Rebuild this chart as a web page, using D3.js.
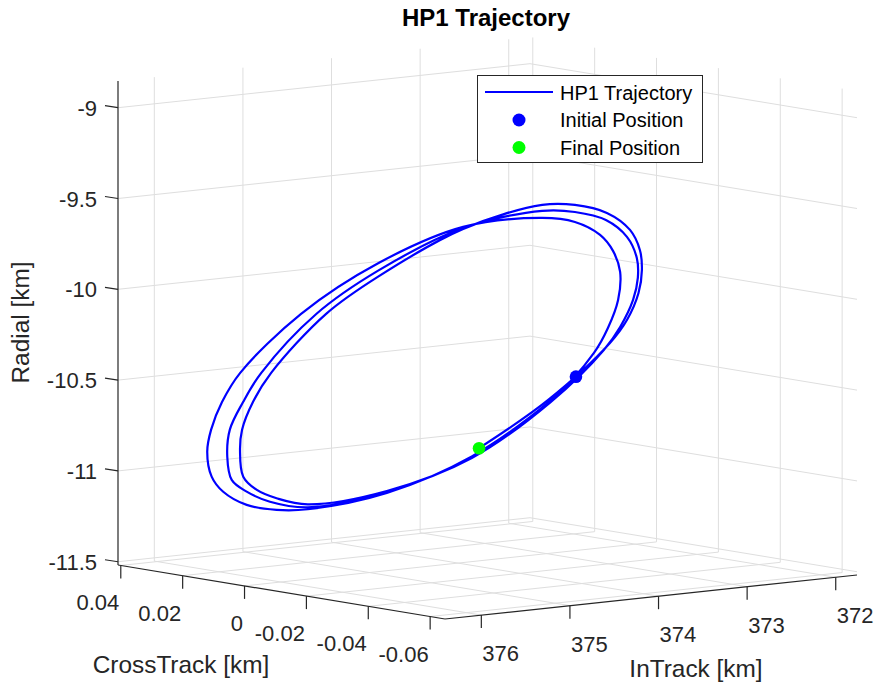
<!DOCTYPE html>
<html><head><meta charset="utf-8">
<script src="https://cdn.jsdelivr.net/npm/d3@7"></script>
<style>body{margin:0;background:#fff}svg{display:block}text{font-family:"Liberation Sans",Arial,Helvetica,sans-serif}</style>
</head><body>
<svg id="chart" width="877" height="686"></svg>
<script>
// Trajectory samples (km)
const crossTrack = [-0.0058,-0.0033,0.0040,0.0120,0.0194,0.0224,0.0252,0.0274,0.0285,0.0289,0.0285,0.0275,0.0258,0.0201,0.0128,0.0048,-0.0026,
  -0.0057,-0.0081,-0.0093,-0.0100,-0.0098,-0.0088,-0.0075,
  -0.0033,0.0040,0.0120,0.0194,0.0230,0.0252,0.0266,0.0270,0.0268,0.0255,0.0238,0.0186,0.0128,0.0048,-0.0026,
  -0.0057,-0.0086,-0.0106,-0.0115,-0.0116,-0.0112,-0.0100,-0.0084,
  -0.0034,0.0040,0.0120,0.0194,0.0224,0.0242,0.0255,0.0258,0.0256,0.0246,0.0229,0.0177,0.0128,0.0048,-0.0026,
  -0.0057,-0.0087,-0.0109,-0.0118,-0.0120,-0.0117,-0.0106,-0.0090,
  -0.0032,0.0033];
const inTrack = [372.872,373.090,373.705,374.385,375.019,375.266,375.506,375.694,375.786,375.822,375.792,375.704,375.558,375.070,374.455,373.775,373.141,
  372.880,372.680,372.576,372.520,372.536,372.616,372.728,
  373.082,373.705,374.385,375.019,375.320,375.506,375.626,375.662,375.640,375.536,375.390,374.951,374.455,373.775,373.141,
  372.880,372.632,372.464,372.384,372.376,372.416,372.520,372.648,
  373.074,373.705,374.385,375.019,375.266,375.426,375.534,375.560,375.544,375.456,375.310,374.871,374.455,373.775,373.141,
  372.880,372.624,372.440,372.360,372.344,372.372,372.464,372.600,
  373.098,373.648];
const radial = [-10.534,-10.670,-10.957,-11.146,-11.223,-11.222,-11.190,-11.114,-11.029,-10.891,-10.770,-10.620,-10.462,-10.146,-9.879,-9.692,-9.655,
  -9.682,-9.757,-9.847,-9.964,-10.118,-10.271,-10.406,
  -10.670,-10.962,-11.141,-11.212,-11.176,-11.117,-11.050,-10.921,-10.773,-10.623,-10.465,-10.149,-9.920,-9.698,-9.616,
  -9.627,-9.676,-9.772,-9.890,-10.000,-10.120,-10.267,-10.391,
  -10.670,-10.966,-11.135,-11.196,-11.158,-11.109,-11.034,-10.887,-10.775,-10.624,-10.467,-10.150,-9.953,-9.703,-9.583,
  -9.588,-9.637,-9.734,-9.846,-9.956,-10.083,-10.230,-10.354,
  -10.659,-10.913];

const crossTicks = [0.04,0.02,0,-0.02,-0.04,-0.06];
const inTicks = [376,375,374,373,372];
const radTicks = [-9,-9.5,-10,-10.5,-11,-11.5];
const cLim = [-0.0648, 0.0409], iLim = [371.76, 376.41], rLim = [-11.518, -8.853];

const svg = d3.select("#chart");
const sc = d3.scaleLinear().domain([cLim[1], cLim[0]]).range([0,1]);
const si = d3.scaleLinear().domain([iLim[1], iLim[0]]).range([0,1]);
const sr = d3.scaleLinear().domain([rLim[0], rLim[1]]).range([0,1]);
const O = [118,565], EC = [327,54], EI = [412,-44], ER = [0,-484];
function proj(c,i,r){const a=sc(c),b=si(i),d=sr(r);
  return [O[0]+a*EC[0]+b*EI[0]+d*ER[0], O[1]+a*EC[1]+b*EI[1]+d*ER[1]];}
const AX="#262626", GRID="#dedede";
function seg(g,p,q,col,w){g.append("line").attr("x1",p[0]).attr("y1",p[1]).attr("x2",q[0]).attr("y2",q[1])
  .attr("stroke",col).attr("stroke-width",w);}

// grid
const gg = svg.append("g");
const [cmin,cmax]=cLim,[imin,imax]=iLim,[rmin,rmax]=rLim;
radTicks.forEach(r=>{ seg(gg,proj(cmax,imax,r),proj(cmax,imin,r),GRID,1); seg(gg,proj(cmax,imin,r),proj(cmin,imin,r),GRID,1); });
inTicks.forEach(i=>{ seg(gg,proj(cmax,i,rmin),proj(cmax,i,rmax),GRID,1); seg(gg,proj(cmax,i,rmin),proj(cmin,i,rmin),GRID,1); });
crossTicks.forEach(c=>{ seg(gg,proj(c,imin,rmin),proj(c,imin,rmax),GRID,1); seg(gg,proj(c,imax,rmin),proj(c,imin,rmin),GRID,1); });

// axes
const ga = svg.append("g");
seg(ga,proj(cmax,imax,rmin),proj(cmax,imax,rmax),AX,1.2);
seg(ga,proj(cmax,imax,rmin),proj(cmin,imax,rmin),AX,1.2);
seg(ga,proj(cmin,imax,rmin),proj(cmin,imin,rmin),AX,1.2);
const fmt = v => String(v);
radTicks.forEach(r=>{const p=proj(cmax,imax,r); seg(ga,p,[p[0]-13,p[1]-2],AX,1.2);
  ga.append("text").attr("x",97).attr("y",p[1]+8).attr("text-anchor","end").attr("font-size",22).attr("fill",AX).text(fmt(r));});
crossTicks.forEach(c=>{const p=proj(c,imax,rmin); seg(ga,p,[p[0],p[1]+13],AX,1.2);
  ga.append("text").attr("x",p[0]-1.5).attr("y",p[1]+45).attr("text-anchor","end").attr("font-size",22).attr("fill",AX).text(fmt(c));});
inTicks.forEach(i=>{const p=proj(cmin,i,rmin); seg(ga,p,[p[0],p[1]+13],AX,1.2);
  ga.append("text").attr("x",p[0]+1).attr("y",p[1]+46).attr("text-anchor","start").attr("font-size",22).attr("fill",AX).text(fmt(i));});
ga.append("text").attr("x",181).attr("y",673).attr("text-anchor","middle").attr("font-size",24.4).attr("fill",AX).text("CrossTrack [km]");
ga.append("text").attr("x",696).attr("y",677).attr("text-anchor","middle").attr("font-size",24.4).attr("fill",AX).text("InTrack [km]");
ga.append("text").attr("transform","translate(29,322.5) rotate(-90)").attr("text-anchor","middle").attr("font-size",24.4).attr("fill",AX).text("Radial [km]");

// trajectory
const pts = crossTrack.map((c,k)=>proj(c,inTrack[k],radial[k]));
svg.append("path").attr("d",d3.line().curve(d3.curveCatmullRom.alpha(0.5))(pts))
  .attr("fill","none").attr("stroke","#0000ff").attr("stroke-width",2.2).attr("stroke-linejoin","round");
const p0 = pts[0], p1 = pts[pts.length-1];
svg.append("circle").attr("cx",p0[0]).attr("cy",p0[1]).attr("r",6.3).attr("fill","#0000ff");
svg.append("circle").attr("cx",p1[0]).attr("cy",p1[1]).attr("r",6.3).attr("fill","#00ff00");

// legend
const lg = svg.append("g");
lg.append("rect").attr("x",477.5).attr("y",75.5).attr("width",225).attr("height",87).attr("fill","#fff").attr("stroke",AX).attr("stroke-width",1);
seg(lg,[485,92],[553,92],"#0000ff",2.2);
lg.append("circle").attr("cx",519).attr("cy",120).attr("r",6.5).attr("fill","#0000ff");
lg.append("circle").attr("cx",519).attr("cy",147.5).attr("r",6.5).attr("fill","#00ff00");
[["HP1 Trajectory",99.5],["Initial Position",127],["Final Position",154.5]].forEach(([t,y])=>
  lg.append("text").attr("x",560).attr("y",y).attr("font-size",20).attr("fill","#000").text(t));

// title
svg.append("text").attr("x",486).attr("y",26).attr("text-anchor","middle").attr("font-size",24).attr("font-weight","bold").attr("fill","#000").text("HP1 Trajectory");
</script>
</body></html>
